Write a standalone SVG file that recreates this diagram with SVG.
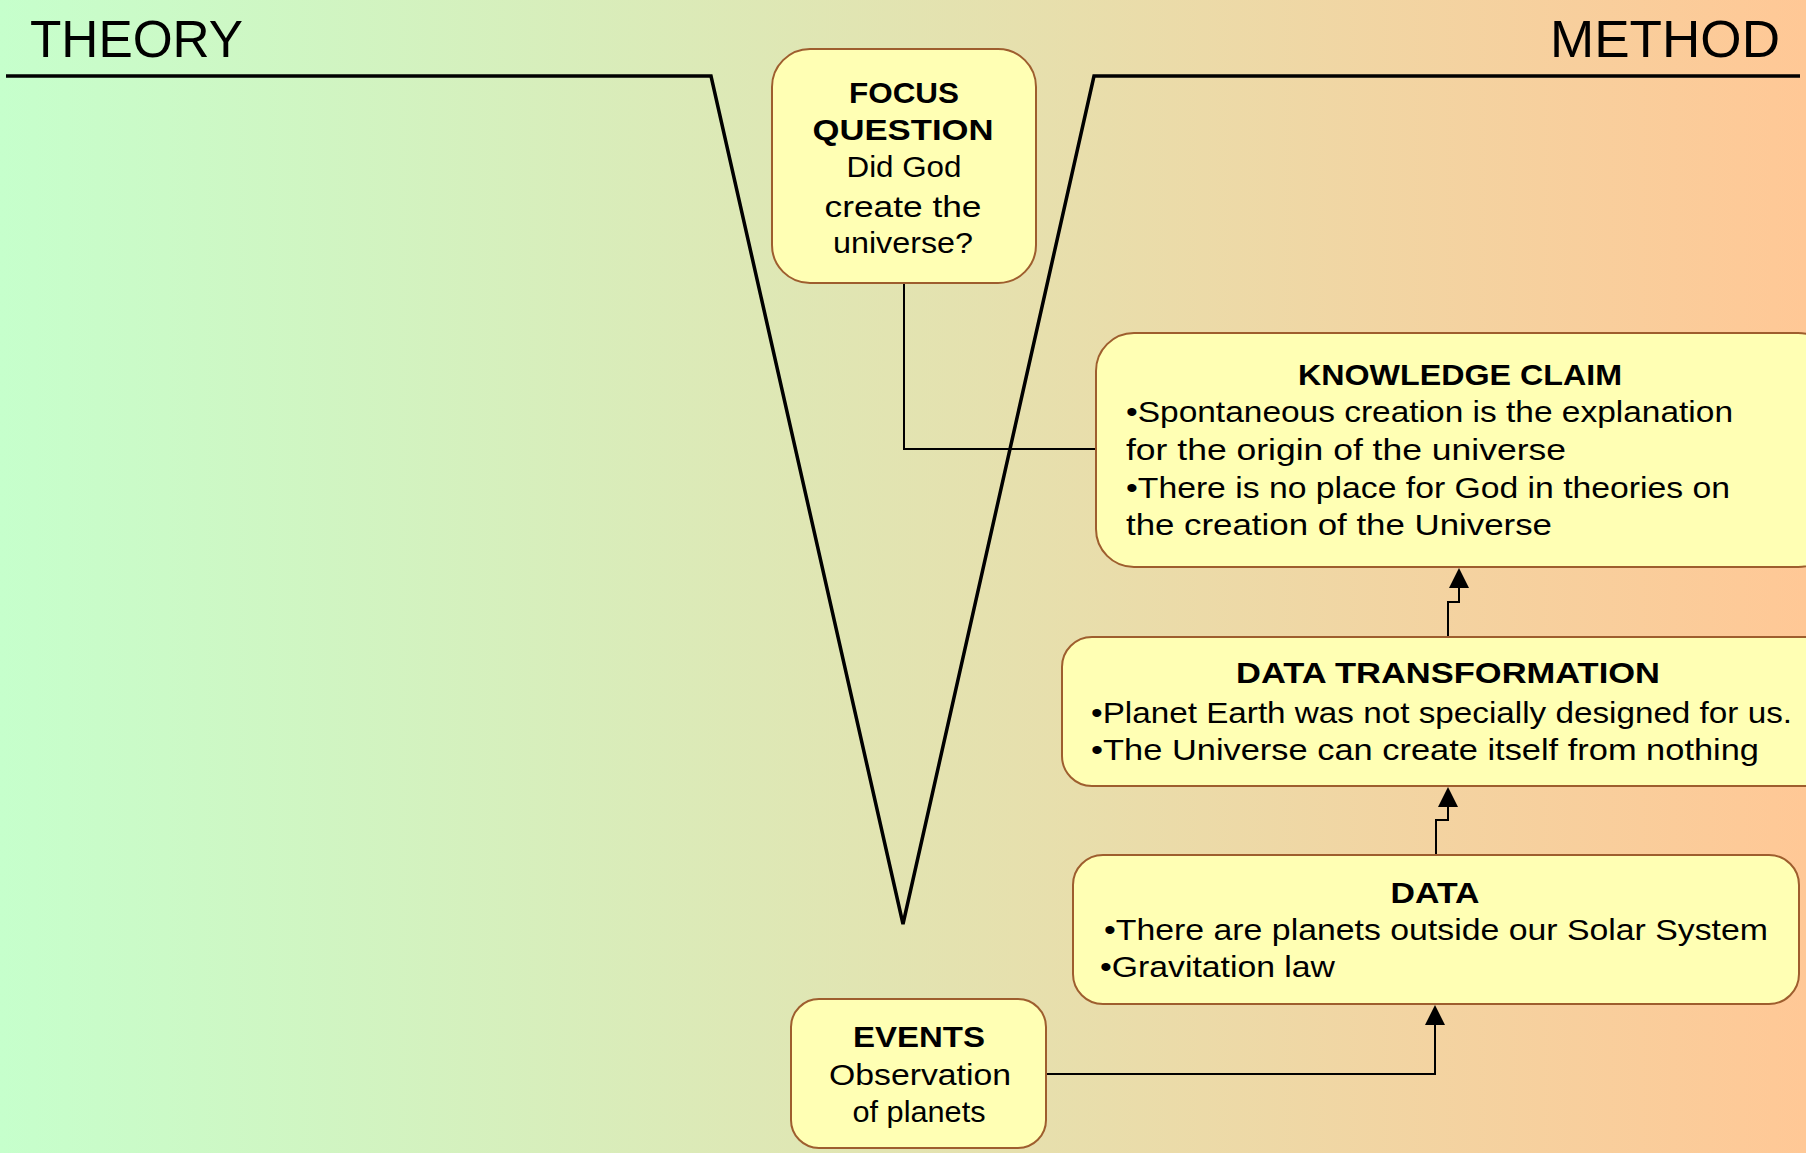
<svg xmlns="http://www.w3.org/2000/svg" width="1806" height="1153" viewBox="0 0 1806 1153">
<defs>
<linearGradient id="bg" x1="0" y1="0" x2="1" y2="0">
<stop offset="0" stop-color="#C6FFCC"/>
<stop offset="1" stop-color="#FFC896"/>
</linearGradient>
<marker id="arr" viewBox="0 0 20 20" refX="0" refY="10" markerWidth="20" markerHeight="20" markerUnits="userSpaceOnUse" orient="auto">
<path d="M0,0 L20,10 L0,20 Z" fill="#000"/>
</marker>
</defs>
<style>
.box{fill:#FFFFB4;stroke:#9E5E2E;stroke-width:2}
text{font-family:"Liberation Sans",Arial,sans-serif;fill:#000}
.t{font-size:30px;font-weight:bold;text-anchor:middle}
.b{font-size:30px}
.c{font-size:30px;text-anchor:middle}
.h{font-size:52px}
.v{fill:none;stroke:#000;stroke-width:3.5}
.ln{fill:none;stroke:#000;stroke-width:2}
</style>
<rect x="0" y="0" width="1806" height="1153" fill="url(#bg)"/>

<g id="vshape">
<path class="v" d="M6,76 H711 L903,924 L1094,76 H1800"/>
<text class="h" x="30" y="57" textLength="213" lengthAdjust="spacingAndGlyphs">THEORY</text>
<text class="h" x="1550" y="57" textLength="230" lengthAdjust="spacingAndGlyphs">METHOD</text>
</g>

<g id="connectors">
<path class="ln" d="M904,283 V449 H1096"/>
<path class="ln" d="M1448,637 V602 H1459 V588" marker-end="url(#arr)"/>
<path class="ln" d="M1436,855 V820 H1448 V807" marker-end="url(#arr)"/>
<path class="ln" d="M1046,1074 H1435 V1025" marker-end="url(#arr)"/>
</g>

<g id="focus">
<rect class="box" x="772" y="49" width="264" height="234" rx="38"/>
<text class="t" x="904" y="103" textLength="110" lengthAdjust="spacingAndGlyphs">FOCUS</text>
<text class="t" x="903" y="140" textLength="181" lengthAdjust="spacingAndGlyphs">QUESTION</text>
<text class="c" x="904" y="177" textLength="115" lengthAdjust="spacingAndGlyphs">Did God</text>
<text class="c" x="903" y="217" textLength="157" lengthAdjust="spacingAndGlyphs">create the</text>
<text class="c" x="903" y="253" textLength="140" lengthAdjust="spacingAndGlyphs">universe?</text>
</g>

<g id="knowledge">
<rect class="box" x="1096" y="333" width="740" height="234" rx="38"/>
<text class="t" x="1460" y="385" textLength="324" lengthAdjust="spacingAndGlyphs">KNOWLEDGE CLAIM</text>
<text class="b" x="1126" y="422" textLength="607" lengthAdjust="spacingAndGlyphs">•Spontaneous creation is the explanation</text>
<text class="b" x="1126" y="460" textLength="440" lengthAdjust="spacingAndGlyphs">for the origin of the universe</text>
<text class="b" x="1126" y="498" textLength="604" lengthAdjust="spacingAndGlyphs">•There is no place for God in theories on</text>
<text class="b" x="1126" y="535" textLength="426" lengthAdjust="spacingAndGlyphs">the creation of the Universe</text>
</g>

<g id="transformation">
<rect class="box" x="1062" y="637" width="774" height="149" rx="30"/>
<text class="t" x="1448" y="683" textLength="424" lengthAdjust="spacingAndGlyphs">DATA TRANSFORMATION</text>
<text class="b" x="1091" y="723" textLength="701" lengthAdjust="spacingAndGlyphs">•Planet Earth was not specially designed for us.</text>
<text class="b" x="1091" y="760" textLength="668" lengthAdjust="spacingAndGlyphs">•The Universe can create itself from nothing</text>
</g>

<g id="data">
<rect class="box" x="1073" y="855" width="726" height="149" rx="30"/>
<text class="t" x="1435" y="903" textLength="89" lengthAdjust="spacingAndGlyphs">DATA</text>
<text class="b" x="1104" y="940" textLength="664" lengthAdjust="spacingAndGlyphs">•There are planets outside our Solar System</text>
<text class="b" x="1100" y="977" textLength="235" lengthAdjust="spacingAndGlyphs">•Gravitation law</text>
</g>

<g id="events">
<rect class="box" x="791" y="999" width="255" height="149" rx="28"/>
<text class="t" x="919" y="1047" textLength="132" lengthAdjust="spacingAndGlyphs">EVENTS</text>
<text class="c" x="920" y="1085" textLength="182" lengthAdjust="spacingAndGlyphs">Observation</text>
<text class="c" x="919" y="1122" textLength="133" lengthAdjust="spacingAndGlyphs">of planets</text>
</g>
</svg>
